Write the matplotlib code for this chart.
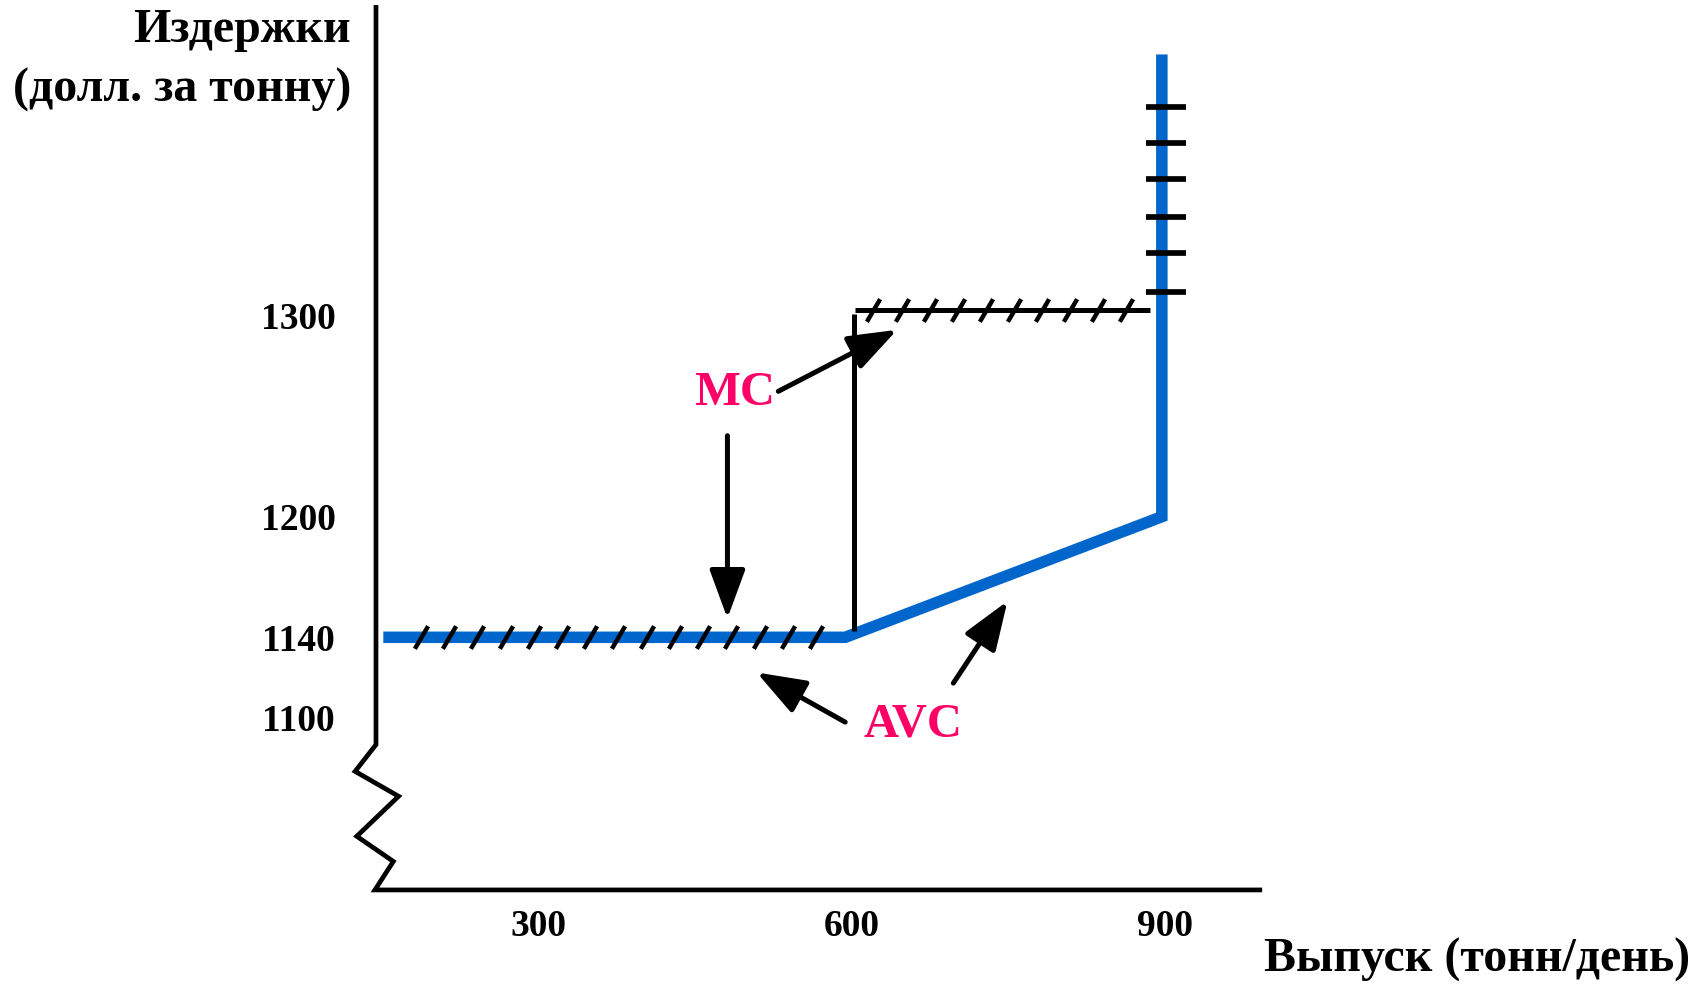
import numpy as np
import matplotlib.pyplot as plt
from matplotlib.path import Path
from matplotlib.transforms import offset_copy

# --- chart values ---
avc_x = [152, 594, 897, 897]
avc_y = [1140, 1140, 1200, 1430]

mc_low_y = 1140
mc_jump_x = 602
mc_jump_y = [1143, 1301]
mc_high_y = 1303
mc_high_x = [603, 886]
mc_low_hatch_x = [188, 215, 242, 269, 296, 323, 350, 377, 404, 431, 458, 485, 512, 539, 566]
mc_high_hatch_x = [621, 648, 675, 702, 729, 756, 782, 809, 836, 863]
mc_vert_x = 901
mc_vert_ticks_y = [1404, 1386, 1368, 1349, 1331, 1312]

y_ticks = [1300, 1200, 1140, 1100]
x_ticks = [300, 600, 900]

BLUE = '#0066CC'
PINK = '#FF0066'
FONT = 'Liberation Serif'


def main():
    plt.rcParams['font.family'] = [FONT, 'DejaVu Serif']
    plt.rcParams['font.weight'] = 'bold'

    fig = plt.figure(figsize=(16.95, 9.84), dpi=100)
    ax = fig.add_axes([0, 0, 1, 1])
    ax.set_xlim(-214.8, 1407.2)
    ax.set_ylim(967.5, 1457.1)
    ax.axis('off')
    down = offset_copy(ax.transData, fig=fig, y=-4, units='dots')

    # axes with broken y axis
    axis_x = [145, 145, 125, 166.6, 126.6, 161.6, 144, 993]
    axis_y = [1454.6, 1086.6, 1073.3, 1060.9, 1041, 1028.5, 1014.3, 1014.3]
    ax.plot(axis_x, axis_y, color='black', lw=3.4, solid_joinstyle='miter',
            solid_capstyle='butt')

    # AVC
    ax.plot(avc_x, avc_y, color=BLUE, lw=8.3, solid_joinstyle='miter',
            solid_capstyle='butt', zorder=2)

    # MC
    slash = Path([(-0.293, -0.5), (0.293, 0.5)], [Path.MOVETO, Path.LINETO])
    ax.plot(mc_low_hatch_x, [mc_low_y] * len(mc_low_hatch_x), ls='none',
            marker=slash, ms=16.3, mew=3.2, mec='black', zorder=3)
    ax.plot([mc_jump_x, mc_jump_x], mc_jump_y, color='black', lw=3.6,
            solid_capstyle='butt', zorder=3)
    ax.plot(mc_high_x, [mc_high_y, mc_high_y], color='black', lw=3.6,
            solid_capstyle='butt', zorder=3)
    ax.plot(mc_high_hatch_x, [mc_high_y] * len(mc_high_hatch_x), ls='none',
            marker=slash, ms=16.3, mew=3.2, mec='black', zorder=3)
    ax.plot([mc_vert_x] * len(mc_vert_ticks_y), mc_vert_ticks_y, ls='none',
            marker='_', ms=29.5, mew=4.1, mec='black', zorder=3)

    # tick labels
    for v in y_ticks:
        ax.text(70.7, v, str(v), ha='center', va='center', fontsize=27,
                fontweight='bold', transform=down)
    for v in x_ticks:
        ax.text(v, 998.3, str(v), ha='center', va='center', fontsize=27,
                fontweight='bold', transform=down)

    # labels + arrows
    ax.text(488, 1263.5, 'MC', color=PINK, ha='center', va='center',
            fontsize=35, fontweight='bold', transform=down)
    ax.text(659, 1098.4, 'AVC', color=PINK, ha='center', va='center',
            fontsize=35, fontweight='bold', transform=down)

    arrow = dict(arrowstyle='-|>,head_length=0.6,head_width=0.22',
                 mutation_scale=50, lw=3.6, color='black',
                 shrinkA=0, shrinkB=0)
    ax.annotate('', xy=(643.7, 1293), xytext=(530, 1262.4), arrowprops=arrow)
    ax.annotate('', xy=(481.3, 1149.4), xytext=(481.3, 1240.3), arrowprops=arrow)
    ax.annotate('', xy=(509.3, 1122.5), xytext=(594, 1097.8), arrowprops=arrow)
    ax.annotate('', xy=(749.3, 1158), xytext=(697.5, 1117.2), arrowprops=arrow)

    # axis titles
    fig.text(351 / 1695, 1 - 30 / 984, 'Издержки', ha='right', va='center',
             fontsize=34.5, fontweight='bold')
    fig.text(351 / 1695, 1 - 90 / 984, '(долл. за тонну)', ha='right',
             va='center', fontsize=34.5, fontweight='bold')
    fig.text(1690 / 1695, 1 - 960 / 984, 'Выпуск (тонн/день)', ha='right',
             va='center', fontsize=34.5, fontweight='bold')

    fig.savefig('out.png', dpi=100)


if __name__ == '__main__':
    main()
